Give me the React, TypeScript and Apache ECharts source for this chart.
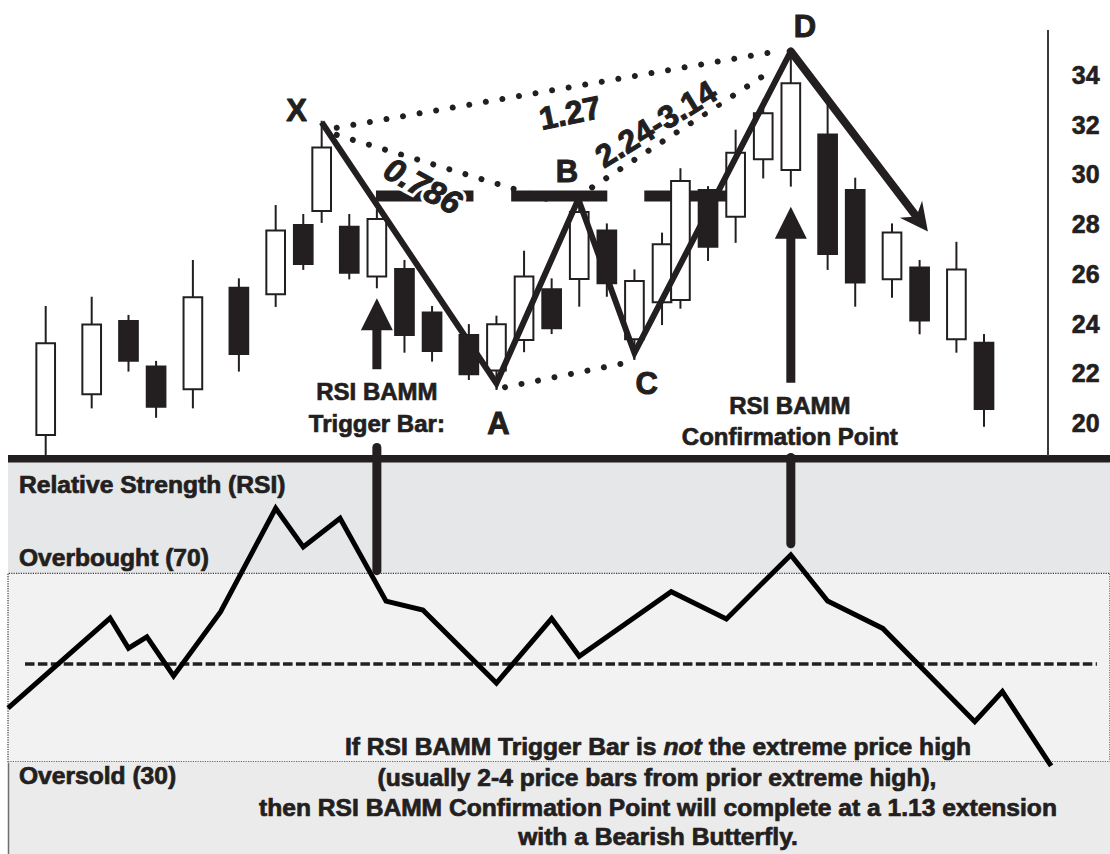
import React, { useEffect, useRef } from 'react';
import * as echarts from 'echarts';

// ---------- DATA ----------
// candle positions on a slot axis (one slot ≈ 9.2 px)
const candleSlots = [0, 5, 9, 12, 16, 21, 25, 28, 30, 33, 36, 39, 42, 46, 49, 52, 55, 58, 61, 64, 67, 69, 72, 75, 78, 81, 85, 88, 92, 95, 99, 102];
const candleOpen = [19.52, 21.16, 24.1, 22.27, 21.36, 25.44, 25.18, 27.97, 28.53, 27.9, 25.89, 26.2, 24.45, 23.54, 22.11, 23.34, 25.38, 25.79, 27.74, 23.37, 24.86, 24.95, 29.37, 28.3, 30.61, 30.18, 31.61, 29.37, 25.78, 26.26, 23.37, 23.23];
const candleClose = [23.21, 23.96, 22.51, 20.66, 25.06, 22.78, 27.74, 26.4, 31.08, 26.05, 28.21, 23.54, 22.9, 21.96, 23.97, 25.89, 23.81, 28.49, 25.62, 25.71, 27.19, 29.74, 27.09, 30.87, 32.46, 33.67, 26.8, 25.65, 27.66, 24.12, 26.18, 20.56];
const candleLow = [18.71, 20.59, 22.07, 20.21, 20.59, 22.07, 24.67, 26.16, 28.05, 25.78, 25.42, 22.83, 22.47, 21.73, 21.33, 22.85, 23.58, 24.68, 25.08, 22.54, 23.94, 24.6, 26.52, 27.25, 29.84, 29.51, 26.16, 24.68, 25.04, 23.57, 22.83, 19.85];
const candleHigh = [24.71, 25.08, 24.35, 22.5, 26.56, 25.82, 28.77, 28.41, 32.16, 28.41, 28.6, 26.56, 24.71, 23.98, 24.32, 26.93, 25.82, 28.9, 28.03, 26.18, 27.66, 30.25, 29.53, 31.8, 33.0, 35.0, 32.86, 29.87, 28.03, 26.56, 27.29, 23.58];

const priceTicks = [20, 22, 24, 26, 28, 30, 32, 34];

// harmonic pattern points X A B C D
const patternLabels = ['X', 'A', 'B', 'C', 'D'];
const patternSlots = [30, 49, 57.9, 64, 81];
const patternPrices = [32.1, 21.6, 29.0, 22.82, 34.95];
const projectionTip = [95.9, 27.7];

// fibonacci level bars
const fibLevel = 29.13;
const fibStart = [35.9, 50.6, 65.07];
const fibEnd = [46.5, 61.05, 74.0];

// dotted ratio lines: XD, XB, BD, AC
const ratioStartSlot = [31.64, 31.64, 57.87, 49.93];
const ratioStartPrice = [31.88, 31.59, 29.11, 21.44];
const ratioEndSlot = [79.9, 55.9, 79.28, 63.33];
const ratioEndPrice = [34.98, 28.85, 34.27, 22.44];
const ratioTexts = ['1.27', '0.786', '2.24-3.14'];

// RSI
const rsiSlots = [-4.1, 7, 9, 11, 13.9, 19, 25, 28, 32, 37, 41, 49, 55, 58, 68, 74, 81, 85, 91, 101, 104, 109.3];
const rsiValues = [41.4, 60.5, 54.1, 56.5, 48.2, 61.8, 83.8, 75.6, 81.7, 64.1, 62.2, 46.7, 60.4, 52.4, 66.1, 60.3, 73.9, 64.1, 58.3, 38.5, 44.9, 29.1];
const overbought = 70;
const oversold = 30;
const midline = 50.7;

// annotation anchors
const triggerSlot = 36;
const triggerTipPrice = 25.02;
const confirmSlot = 81;
const confirmTipPrice = 28.7;
const triggerRsiEnd = 69.6;
const confirmRsiEnd = 75.3;

const FONT = '"Liberation Sans", Arial, Helvetica, sans-serif';
const INK = '#231f20';

function txt(text: string, x: number, y: number, size: number, o: any = {}) {
  return {
    type: 'text',
    x,
    y,
    z: o.z || 70,
    rotation: o.rot || 0,
    scaleX: o.sx || 1,
    style: {
      text,
      fontFamily: FONT,
      fontWeight: 'bold',
      fontStyle: o.italic ? 'italic' : 'normal',
      fontSize: size,
      fill: o.fill || INK,
      align: o.align || 'center',
      verticalAlign: 'middle',
      stroke: o.stroke !== undefined ? o.stroke : INK,
      lineWidth: o.sw != null ? o.sw : 0.7,
      rich: o.rich,
    },
  };
}

export default function App() {
  const ref = useRef<HTMLDivElement>(null);
  useEffect(() => {
    if (!ref.current) return;
    const chart = echarts.init(ref.current, null, { renderer: 'svg' });

    const candleData = candleSlots.map((s, i) => [s, candleOpen[i], candleClose[i], candleLow[i], candleHigh[i]]);

    const series: any[] = [];
    fibStart.forEach((s, i) => {
      series.push({
        type: 'line', xAxisIndex: 0, yAxisIndex: 0, silent: true, symbol: 'none', z: 1, clip: false,
        data: [[s, fibLevel], [fibEnd[i], fibLevel]],
        lineStyle: { color: INK, width: 11, cap: 'butt' },
      });
    });
    series.push({
      type: 'custom', xAxisIndex: 0, yAxisIndex: 0, z: 3, silent: true, clip: false,
      encode: { x: 0, y: [1, 2, 3, 4] },
      data: candleData,
      renderItem: (params: any, api: any) => {
        const x = api.value(0), o = api.value(1), c = api.value(2), l = api.value(3), h = api.value(4);
        const pO = api.coord([x, o]);
        const pC = api.coord([x, c]);
        const pL = api.coord([x, l]);
        const pH = api.coord([x, h]);
        const w = api.size([2.03, 0])[0];
        const up = c >= o;
        const top = Math.min(pO[1], pC[1]);
        const bot = Math.max(pO[1], pC[1]);
        return {
          type: 'group',
          children: [
            { type: 'line', shape: { x1: pH[0], y1: pH[1], x2: pH[0], y2: top }, style: { stroke: INK, lineWidth: 2 } },
            { type: 'line', shape: { x1: pL[0], y1: bot, x2: pL[0], y2: pL[1] }, style: { stroke: INK, lineWidth: 2 } },
            { type: 'rect', shape: { x: pO[0] - w / 2, y: top, width: w, height: bot - top }, style: { fill: up ? '#ffffff' : INK, stroke: INK, lineWidth: 2 } },
          ],
        };
      },
    });
    ratioStartSlot.forEach((s, i) => {
      series.push({
        type: 'line', xAxisIndex: 0, yAxisIndex: 0, silent: true, symbol: 'none', z: 4, clip: false,
        data: [[s, ratioStartPrice[i]], [ratioEndSlot[i], ratioEndPrice[i]]],
        lineStyle: { color: INK, width: 6, type: [0.01, 16.8], cap: 'round' },
      });
    });
    series.push({
      type: 'line', xAxisIndex: 0, yAxisIndex: 0, silent: true, symbol: 'none', z: 5, clip: false,
      data: patternSlots.map((s, i) => [s, patternPrices[i]]),
      lineStyle: { color: INK, width: 6, join: 'miter', cap: 'butt' },
    });
    series.push({
      type: 'line', xAxisIndex: 1, yAxisIndex: 1, silent: true, symbol: 'none', z: 5, clip: false,
      data: rsiSlots.map((s, i) => [s, rsiValues[i]]),
      lineStyle: { color: '#000000', width: 5, join: 'miter' },
      markArea: {
        silent: true,
        data: [
          [{ yAxis: overbought, itemStyle: { color: '#e6e7e8' } }, { yAxis: 95 }],
          [{ yAxis: oversold, itemStyle: { color: '#f2f2f2', borderColor: '#3a3a3a', borderWidth: 1.2, borderType: 'dotted' } }, { yAxis: overbought }],
          [{ yAxis: 10, itemStyle: { color: '#ebebeb' } }, { yAxis: oversold }],
        ],
      },
      markLine: {
        silent: true,
        symbol: ['none', 'none'],
        label: { show: false },
        lineStyle: { color: INK, width: 3.5, type: [9.5, 3.4] },
        data: [[{ coord: [-2.25, midline] }, { coord: [114.28, midline] }]],
      },
    });

    const option: any = {
      animation: false,
      backgroundColor: '#ffffff',
      grid: [
        { left: 41.1, top: 25.28, width: 1002.7, height: 447.48, outerBoundsMode: 'none' },
        { left: 8, top: 455.55, width: 1102, height: 400.35, outerBoundsMode: 'none' },
      ],
      xAxis: [
        { type: 'value', gridIndex: 0, min: -0.5, max: 108.5, show: false },
        { type: 'value', gridIndex: 1, min: -4.1, max: 115.7, show: false },
      ],
      yAxis: [
        {
          type: 'value', gridIndex: 0, min: 18, max: 36, interval: 2, position: 'right',
          axisLine: { show: false }, axisTick: { show: false }, splitLine: { show: false },
          axisLabel: {
            margin: 28, fontSize: 25, fontWeight: 'bold', fontFamily: FONT, color: INK,
            textBorderColor: INK, textBorderWidth: 0.6,
            formatter: (v: number) => (priceTicks.indexOf(v) >= 0 ? String(v) : ''),
          },
        },
        { type: 'value', gridIndex: 1, min: 10, max: 95, show: false },
      ],
      series,
    };
    chart.setOption(option);

    const px = (s: number, p: number) => chart.convertToPixel({ xAxisIndex: 0, yAxisIndex: 0 } as any, [s, p]) as unknown as number[];
    const rpx = (s: number, v: number) => chart.convertToPixel({ xAxisIndex: 1, yAxisIndex: 1 } as any, [s, v]) as unknown as number[];

    const g: any[] = [];
    // separator & axis line
    g.push({ type: 'rect', z: 60, shape: { x: 8, y: 455, width: 1102, height: 7.5 }, style: { fill: INK } });
    g.push({ type: 'line', z: 60, shape: { x1: 1048, y1: 30, x2: 1048, y2: 456 }, style: { stroke: '#3a3a3a', lineWidth: 2 } });
    const os = rpx(0, oversold);
    g.push({ type: 'line', z: 60, shape: { x1: 8.5, y1: os[1] + 1, x2: 8.5, y2: 854 }, style: { stroke: '#6d6e70', lineWidth: 1.5 } });

    // projection arrow from D
    const d = px(patternSlots[4], patternPrices[4]);
    const t = px(projectionTip[0], projectionTip[1]);
    const len = Math.hypot(t[0] - d[0], t[1] - d[1]);
    const ux = (t[0] - d[0]) / len, uy = (t[1] - d[1]) / len;
    const vx = -uy, vy = ux;
    g.push({ type: 'line', z: 55, shape: { x1: d[0], y1: d[1], x2: t[0] - 18 * ux, y2: t[1] - 18 * uy }, style: { stroke: INK, lineWidth: 8, lineCap: 'round' } });
    g.push({
      type: 'polygon', z: 56,
      shape: { points: [[t[0], t[1]], [t[0] - 28 * ux + 14 * vx, t[1] - 28 * uy + 14 * vy], [t[0] - 19 * ux, t[1] - 19 * uy], [t[0] - 28 * ux - 14 * vx, t[1] - 28 * uy - 14 * vy]] },
      style: { fill: INK },
    });

    // upward arrows
    const arrow = (tip: number[], shaft: number) => {
      g.push({ type: 'polygon', z: 56, shape: { points: [[tip[0], tip[1]], [tip[0] + 16, tip[1] + 32], [tip[0] - 16, tip[1] + 32]] }, style: { fill: INK } });
      g.push({ type: 'rect', z: 56, shape: { x: tip[0] - 4.5, y: tip[1] + 31, width: 9, height: shaft }, style: { fill: INK } });
    };
    const tr = px(triggerSlot, triggerTipPrice);
    const cf = px(confirmSlot, confirmTipPrice);
    arrow(tr, 40);
    arrow(cf, 145);
    const trEnd = rpx(triggerSlot, triggerRsiEnd);
    const cfEnd = rpx(confirmSlot, confirmRsiEnd);
    g.push({ type: 'line', z: 61, shape: { x1: tr[0], y1: 447.5, x2: tr[0], y2: trEnd[1] - 4.5 }, style: { stroke: INK, lineWidth: 9, lineCap: 'round' } });
    g.push({ type: 'line', z: 61, shape: { x1: cf[0], y1: 457.5, x2: cf[0], y2: cfEnd[1] - 4.5 }, style: { stroke: INK, lineWidth: 9, lineCap: 'round' } });

    g.push(txt('RSI BAMM', tr[0], 391.7, 24));
    g.push(txt('Trigger Bar:', tr[0], 423.3, 24));
    g.push(txt('RSI BAMM', cf[0] - 1, 405.7, 24));
    g.push(txt('Confirmation Point', cf[0] - 1, 436, 24));

    // pattern letters
    const letterPos = [[296.5, 110.8], [498.5, 423], [567, 171.7], [646.7, 383.3], [805, 26]];
    patternLabels.forEach((l, i) => g.push(txt(l, letterPos[i][0], letterPos[i][1], 31, { sw: 1 })));

    // ratio labels: white halo underneath, ink text on top
    const ratioPos = [[570, 113, 0.2, false, 32], [423, 186, -0.5, true, 33], [656, 124, 0.55, false, 32]];
    ratioTexts.forEach((r, i) => {
      const [x, y, rot, italic, size] = ratioPos[i] as any;
      g.push(txt(r, x, y, size, { rot, italic, fill: '#ffffff', stroke: '#ffffff', sw: 7, z: 68 }));
      g.push(txt(r, x, y, size, { rot, italic, sw: 1, z: 69 }));
    });

    // RSI panel labels
    g.push(txt('Relative Strength (RSI)', 19, 485, 23, { align: 'left', sx: 1.07 }));
    g.push(txt('Overbought (70)', 19, 558, 23, { align: 'left', sx: 1.07 }));
    g.push(txt('Oversold (30)', 19, 776, 23, { align: 'left', sx: 1.07 }));

    const base = { fontFamily: FONT, fontWeight: 'bold', fontSize: 23, fill: INK, fontStyle: 'normal', stroke: INK, lineWidth: 0.7 };
    g.push(txt('{a|If RSI BAMM Trigger Bar is }{i|not}{a| the extreme price high}', 658, 747, 23, {
      sx: 1.07, stroke: null, sw: 0,
      rich: { a: { ...base }, i: { ...base, fontStyle: 'italic' } },
    }));
    g.push(txt('(usually 2-4 price bars from prior extreme high),', 657, 778, 23, { sx: 1.07 }));
    g.push(txt('then RSI BAMM Confirmation Point will complete at a 1.13 extension', 658, 808, 23, { sx: 1.07 }));
    g.push(txt('with a Bearish Butterfly.', 658, 837, 23, { sx: 1.07 }));

    chart.setOption({ graphic: g });

    return () => chart.dispose();
  }, []);
  return <div ref={ref} style={{ position: 'absolute', left: 0, top: 0, width: 1110, height: 854 }} />;
}
